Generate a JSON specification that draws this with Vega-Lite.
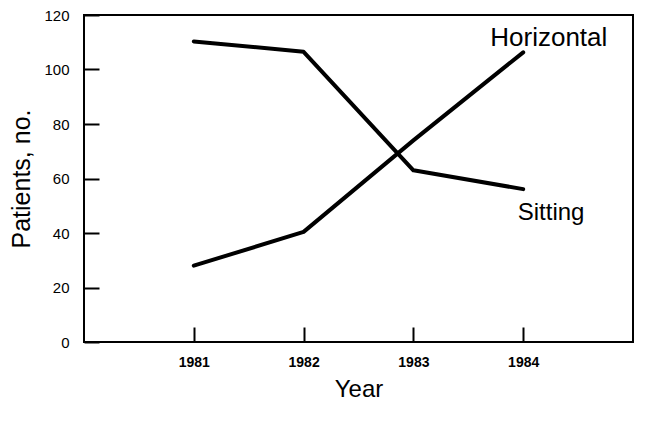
{
  "$schema": "https://vega.github.io/schema/vega-lite/v6.json",
  "width": 549,
  "height": 327,
  "autosize": {"type": "none"},
  "padding": {"left": 84, "top": 15, "right": 15, "bottom": 79},
  "background": "white",
  "config": {
    "view": {"stroke": "black", "strokeWidth": 2},
    "font": "Liberation Sans",
    "axis": {
      "domain": false,
      "grid": false,
      "tickColor": "black",
      "tickWidth": 2,
      "tickSize": -15,
      "labelColor": "black",
      "labelFont": "Liberation Sans",
      "labelFontSize": 14,
      "titleColor": "black",
      "titleFont": "Liberation Sans",
      "titleFontWeight": "normal"
    }
  },
  "datasets": {
    "series": [
      {"year": 1981, "patients": 110.3, "position": "Sitting"},
      {"year": 1982, "patients": 106.5, "position": "Sitting"},
      {"year": 1983, "patients": 63.0, "position": "Sitting"},
      {"year": 1984, "patients": 56.1, "position": "Sitting"},
      {"year": 1981, "patients": 28.0, "position": "Horizontal"},
      {"year": 1982, "patients": 40.4, "position": "Horizontal"},
      {"year": 1983, "patients": 74.0, "position": "Horizontal"},
      {"year": 1984, "patients": 106.3, "position": "Horizontal"}
    ],
    "labels": [
      {"year": 1983.7, "patients": 108.6, "label": "Horizontal", "size": 26},
      {"year": 1983.95, "patients": 44.8, "label": "Sitting", "size": 24}
    ]
  },
  "layer": [
    {
      "data": {"name": "series"},
      "mark": {"type": "line", "color": "black", "strokeWidth": 4, "strokeJoin": "round", "strokeCap": "round"},
      "encoding": {
        "x": {
          "field": "year", "type": "quantitative",
          "scale": {"domain": [1980, 1985], "nice": false, "zero": false},
          "axis": {"values": [1981, 1982, 1983, 1984], "format": "d", "title": "Year", "titleFontSize": 24, "labelFontSize": 14, "labelFontWeight": "bold", "labelPadding": 28, "titlePadding": 8}
        },
        "y": {
          "field": "patients", "type": "quantitative",
          "scale": {"domain": [0, 120], "nice": false},
          "axis": {"values": [0, 20, 40, 60, 80, 100, 120], "title": "Patients, no.", "titleFontSize": 25, "labelFontSize": 15, "labelPadding": 30, "titlePadding": 9}
        },
        "detail": {"field": "position"}
      }
    },
    {
      "data": {"name": "labels"},
      "mark": {"type": "text", "align": "left", "baseline": "alphabetic", "color": "black", "font": "Liberation Sans"},
      "encoding": {
        "x": {"field": "year", "type": "quantitative"},
        "y": {"field": "patients", "type": "quantitative"},
        "text": {"field": "label"},
        "size": {"field": "size", "type": "quantitative", "scale": null}
      }
    }
  ]
}
